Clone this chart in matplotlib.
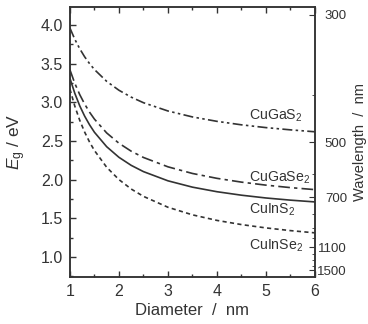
import matplotlib
matplotlib.use("Agg")
import matplotlib.pyplot as plt
from matplotlib.ticker import MultipleLocator, FixedLocator, NullFormatter

plt.rcParams['font.family'] = ['Liberation Sans', 'DejaVu Sans']
plt.rcParams['mathtext.fontset'] = 'custom'
plt.rcParams['mathtext.rm'] = 'Liberation Sans'
plt.rcParams['mathtext.it'] = 'Liberation Sans:italic'

diameter = [1.0, 1.1, 1.2, 1.3, 1.4, 1.5, 1.75, 2.0, 2.25, 2.5, 3.0, 3.5, 4.0, 4.5, 5.0, 5.5, 6.0]
cugas2 = [3.96, 3.814, 3.692, 3.588, 3.50, 3.423, 3.27, 3.155, 3.066, 2.994, 2.887, 2.81, 2.753, 2.708, 2.672, 2.643, 2.618]
cugase2 = [3.42, 3.244, 3.099, 2.977, 2.872, 2.782, 2.603, 2.470, 2.367, 2.286, 2.165, 2.079, 2.016, 1.967, 1.928, 1.896, 1.870]
cuins2 = [3.31, 3.115, 2.954, 2.821, 2.709, 2.612, 2.425, 2.288, 2.184, 2.103, 1.984, 1.902, 1.843, 1.798, 1.762, 1.734, 1.711]
cuinse2 = [3.17, 2.949, 2.767, 2.615, 2.486, 2.376, 2.159, 2.0, 1.878, 1.783, 1.642, 1.544, 1.472, 1.418, 1.375, 1.340, 1.311]

wl_major = [300, 500, 700, 1100, 1500]
wl_minor = [400, 600, 800, 900, 1000, 1200, 1300, 1400]

col = '#333333'
fig = plt.figure(figsize=(3.68, 3.24), dpi=100)
ax = fig.add_axes([0.190, 0.145, 0.666, 0.833])

ax.plot(diameter, cugas2, color=col, lw=1.2, ls=(0, (6, 2, 1.5, 2, 1.5, 2)))
ax.plot(diameter, cugase2, color=col, lw=1.2, ls=(0, (7, 2.5, 2, 2.5)))
ax.plot(diameter, cuins2, color=col, lw=1.2, ls='-')
ax.plot(diameter, cuinse2, color=col, lw=1.2, ls=(0, (2.5, 2)))

ax.set_xlim(1, 6)
ax.set_ylim(0.74, 4.23)
ax.xaxis.set_major_locator(MultipleLocator(1))
ax.xaxis.set_minor_locator(MultipleLocator(0.5))
ax.yaxis.set_major_locator(MultipleLocator(0.5))
ax.yaxis.set_minor_locator(MultipleLocator(0.25))
ax.tick_params(which='both', direction='in', top=True, right=False, color=col,
               labelcolor=col, labelsize=11.5, width=1, pad=5)
ax.tick_params(which='major', length=4)
ax.tick_params(which='minor', length=2.5)
for s in ax.spines.values():
    s.set_color(col)
    s.set_linewidth(1.1)

ax.set_xlabel('Diameter  /  nm', fontsize=12, color=col)
ax.set_ylabel(r'$E_{\rm g}$ / eV', fontsize=12.5, color=col)
ax.xaxis.set_label_coords(0.5, -0.098)
ax.yaxis.set_label_coords(-0.172, 0.5)

tx = 4.65
fs = 10.2
ax.text(tx, 2.83, r'CuGaS$_2$', fontsize=fs, color=col, va='center')
ax.text(tx, 2.02, r'CuGaSe$_2$', fontsize=fs, color=col, va='center')
ax.text(tx, 1.61, r'CuInS$_2$', fontsize=fs, color=col, va='center')
ax.text(tx, 1.15, r'CuInSe$_2$', fontsize=fs, color=col, va='center')

ax2 = ax.twinx()
ax2.set_ylim(ax.get_ylim())
ax2.yaxis.set_major_locator(FixedLocator([1240.0 / w for w in wl_major]))
ax2.yaxis.set_minor_locator(FixedLocator([1240.0 / w for w in wl_minor]))
ax2.set_yticklabels([str(w) for w in wl_major])
ax2.yaxis.set_minor_formatter(NullFormatter())
ax2.tick_params(which='both', direction='in', color=col, labelcolor=col, labelsize=9.5, pad=23)
ax2.tick_params(which='major', length=4)
ax2.tick_params(which='minor', length=2.5)
for lbl in ax2.get_yticklabels():
    lbl.set_horizontalalignment('right')
for s in ax2.spines.values():
    s.set_color(col)
    s.set_linewidth(1.1)
ax2.set_ylabel('Wavelength  /  nm', fontsize=10.5, color=col, labelpad=4)

fig.savefig('out.png', dpi=100)
